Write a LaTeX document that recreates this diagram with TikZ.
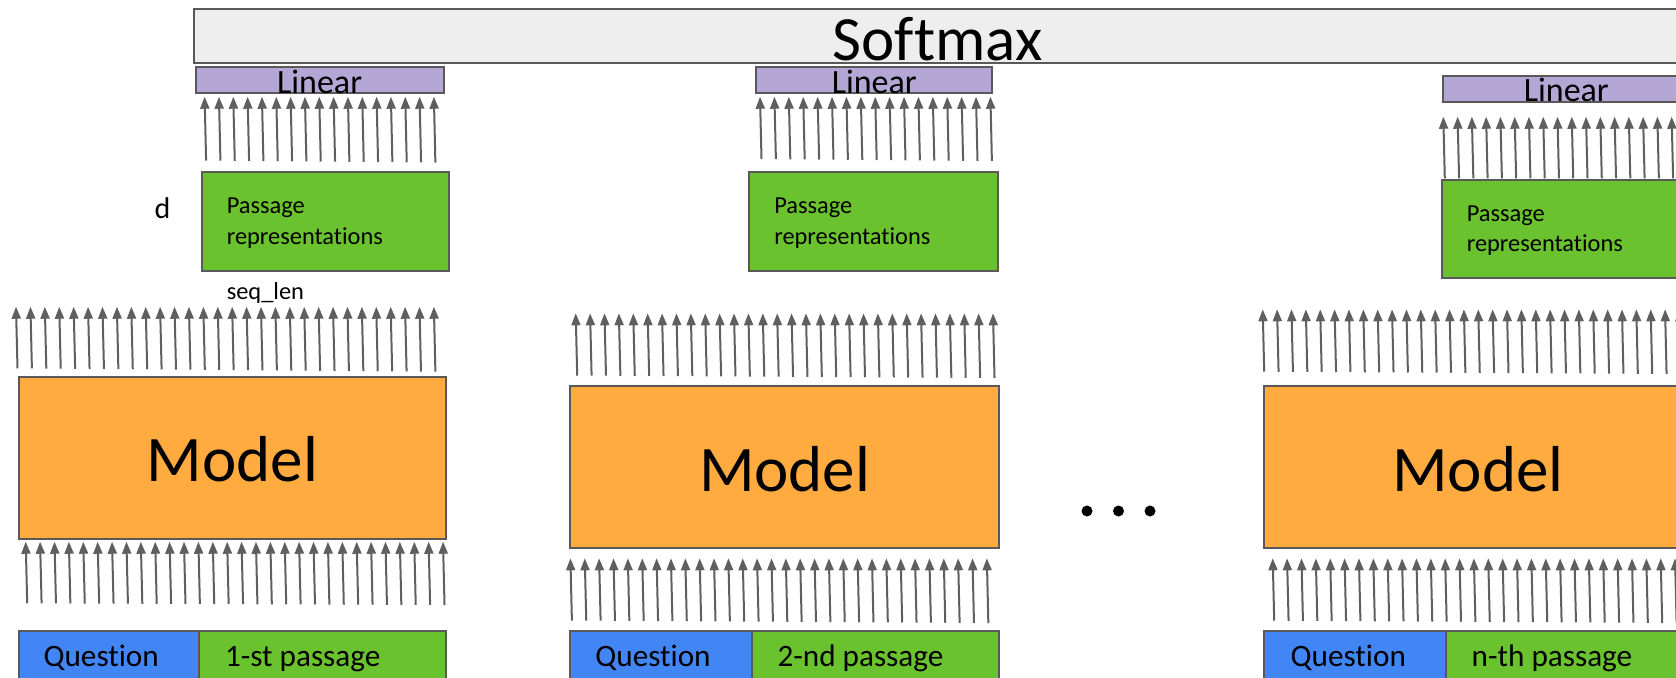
\documentclass[tikz,border=0pt]{standalone}
\usepackage{fontspec}
\setmainfont{Carlito}[Ligatures=NoCommon]
\usetikzlibrary{arrows.meta,fit,calc}
\definecolor{bordergray}{HTML}{595959}
\definecolor{smfill}{HTML}{EEEEEE}
\definecolor{linfill}{HTML}{B4A7D6}
\definecolor{grnfill}{HTML}{6AC22E}
\definecolor{orgfill}{HTML}{FFAB40}
\definecolor{blufill}{HTML}{4285F4}
\definecolor{arrgray}{HTML}{5F5F5F}
\newcommand{\myarrowrow}[6]{%
  \foreach \i in {1,...,#2}{%
    \draw[arr] ({#1+#3*(\i-1)+1.5},{#5+(#6-#5)*(\i-1)/(#2-1)}) -- ({#1+#3*(\i-1)},#4);}}
\begin{document}
\begin{tikzpicture}[x=0.5pt,y=-0.5pt,
  box/.style={draw=bordergray, line width=1pt, inner sep=0pt, outer sep=0pt},
  smbox/.style={box, fill=smfill},
  linbox/.style={box, fill=linfill},
  prbox/.style={box, fill=grnfill},
  modbox/.style={box, fill=orgfill},
  qbox/.style={box, fill=blufill},
  pasbox/.style={box, fill=grnfill},
  arr/.style={draw=arrgray, line width=1pt, -{Triangle[length=6pt,width=4.5pt]}},
  txt/.style={inner sep=0pt, outer sep=0pt, text=black},
  smtext/.style={txt, font=\fontsize{31.5}{38}\selectfont},
  lintext/.style={txt, font=\fontsize{17}{20}\selectfont},
  modtext/.style={txt, font=\fontsize{32.5}{39}\selectfont},
  prtext/.style={txt, align=left, font=\fontsize{12.2}{15.2}\selectfont},
  smalltext/.style={txt, font=\fontsize{12.2}{15}\selectfont},
  dtext/.style={txt, font=\fontsize{15}{18}\selectfont},
  intext/.style={txt, font=\fontsize{15.6}{19}\selectfont},
  dotmark/.style={circle, fill=black, inner sep=0pt, minimum size=5.5pt}
]
\useasboundingbox (0,0) rectangle (1676,677);
\clip (0,0) rectangle (1676,677);

% Softmax
\node[smbox, fit={(194.3,9.3) (1681,63.3)}] (sm) {};
\node[smtext, anchor=base] (smt) at ($(sm.south)+(0,-3.3)$) {Softmax};

% Linear boxes
\node[linbox, fit={(195.7,66.7) (443.6,92.7)}] (l1) {};
\node[linbox, fit={(756.4,67.3) (992.1,93.3)}] (l2) {};
\node[linbox, fit={(1442.7,76) (1690,101.7)}] (l3) {};
\node[lintext, anchor=base] (l1t) at ($(l1.south)+(0,0.3)$) {Linear};
\node[lintext, anchor=base] (l2t) at ($(l2.south)+(0,0.3)$) {Linear};
\node[lintext, anchor=base] (l3t) at ($(l3.south)+(0,-0.5)$) {Linear};

% Passage representations
\node[prbox, fit={(201.8,171.7) (449.3,270.7)}] (pr1) {};
\node[prbox, fit={(749.3,171.7) (997.5,270.7)}] (pr2) {};
\node[prbox, fit={(1442.3,180) (1690,278.3)}] (pr3) {};
\node[prtext, anchor=west] (pr1t) at ($(pr1.west)+(25,2)$) {Passage\\representations};
\node[prtext, anchor=west] (pr2t) at ($(pr2.west)+(25,2)$) {Passage\\representations};
\node[prtext, anchor=west] (pr3t) at ($(pr3.west)+(24.5,1.5)$) {Passage\\representations};

\node[dtext] (dlab) at (162.5,208) {d};
\node[smalltext, anchor=base west] (seqlab) at (226.8,299.5) {seq\_len};

% Models
\node[modbox, fit={(18.6,376.7) (446.4,539.3)}] (m1) {};
\node[modbox, fit={(570.4,386) (998.9,548.3)}] (m2) {};
\node[modbox, fit={(1264,386) (1692,548.3)}] (m3) {};
\node[modtext, anchor=base] (m1t) at ($(m1.center)+(0,23.7)$) {Model};
\node[modtext, anchor=base] (m2t) at ($(m2.center)+(0,24.5)$) {Model};
\node[modtext, anchor=base] (m3t) at ($(m3.center)+(0,24.5)$) {Model};

% Inputs
\node[qbox, fit={(18.6,630.7) (199.3,700)}] (q1) {};
\node[pasbox, fit={(199.3,630.7) (446.4,700)}] (p1) {};
\node[qbox, fit={(570.4,630.7) (751.8,700)}] (q2) {};
\node[pasbox, fit={(751.8,630.7) (998.9,700)}] (p2) {};
\node[qbox, fit={(1264,631) (1446,700)}] (q3) {};
\node[pasbox, fit={(1446,631) (1692,700)}] (p3) {};
\node[intext, anchor=base west] (q1t) at (43.6,666) {Question};
\node[intext, anchor=base west] (p1t) at (225,666) {1-st passage};
\node[intext, anchor=base west] (q2t) at (595.4,666) {Question};
\node[intext, anchor=base west] (p2t) at (777.5,666) {2-nd passage};
\node[intext, anchor=base west] (q3t) at (1290.7,666) {Question};
\node[intext, anchor=base west] (p3t) at (1471.7,666) {n-th passage};

% dots
\node[dotmark] (dot1) at (1087,511) {};
\node[dotmark] (dot2) at (1118.5,511) {};
\node[dotmark] (dot3) at (1150,511) {};

% arrow rows
\myarrowrow{204.6}{17}{14.33}{96.7}{160.5}{162.5}
\myarrowrow{760}{17}{14.4}{96.7}{159}{161}
\myarrowrow{1443.3}{18}{14.27}{116.7}{178.3}{178.3}
\myarrowrow{16}{30}{14.41}{306.7}{368.3}{371.7}
\myarrowrow{25.7}{30}{14.39}{541.7}{603.3}{605}
\myarrowrow{575.7}{30}{14.39}{313.3}{375.5}{378}
\myarrowrow{570.4}{30}{14.36}{558.3}{620.5}{623}
\myarrowrow{1262.7}{30}{14.37}{309.3}{371.7}{374}
\myarrowrow{1272.7}{30}{14.37}{558.3}{620.7}{623}
\end{tikzpicture}
\end{document}
